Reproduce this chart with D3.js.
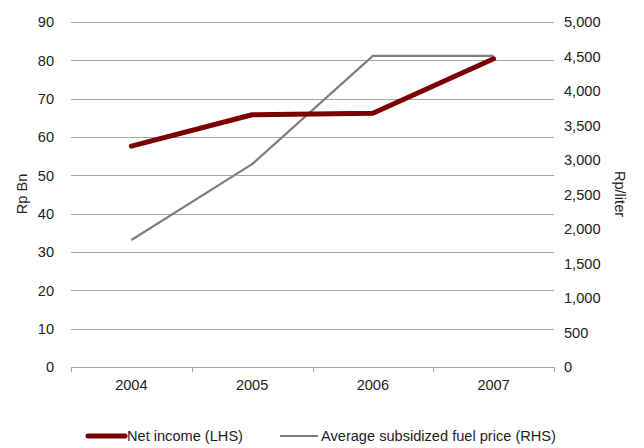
<!DOCTYPE html>
<html>
<head>
<meta charset="utf-8">
<script src="https://cdn.jsdelivr.net/npm/d3@7/dist/d3.min.js"></script>
<style>
  html, body { margin: 0; padding: 0; background: #fff; }
  svg text { font-family: "Liberation Sans", Arial, sans-serif; }
</style>
</head>
<body>
<svg id="chart" width="644" height="448"></svg>
<script>
// Data
const years = ["2004", "2005", "2006", "2007"];
const netIncome = [57.6, 65.8, 66.2, 80.4];        // Rp Bn (left axis)
const fuelPrice = [1840, 2940, 4510, 4510];        // Rp/liter (right axis)
const leftTicks = [0, 10, 20, 30, 40, 50, 60, 70, 80, 90];
const rightTicks = [0, 500, 1000, 1500, 2000, 2500, 3000, 3500, 4000, 4500, 5000];
const seriesNames = ["Net income (LHS)", "Average subsidized fuel price (RHS)"];

const FS = 14.6;
const svg = d3.select("#chart");
const m = { left: 71, right: 554, top: 22, bottom: 367 };

const x = d3.scaleBand().domain(years).range([m.left, m.right]).padding(0);
const yL = d3.scaleLinear().domain([0, 90]).range([m.bottom, m.top]);
const yR = d3.scaleLinear().domain([0, 5000]).range([m.bottom, m.top]);
const cx = d => x(d) + x.bandwidth() / 2;

// Gridlines from the left axis
svg.append("g")
  .selectAll("line")
  .data(leftTicks.filter(d => d > 0))
  .join("line")
  .attr("x1", m.left).attr("x2", m.right)
  .attr("y1", d => Math.round(yL(d)) + 0.5).attr("y2", d => Math.round(yL(d)) + 0.5)
  .attr("stroke", "#a6a6a6").attr("stroke-width", 1);

// Left axis labels
const gL = svg.append("g").attr("transform", `translate(${m.left},0)`)
  .call(d3.axisLeft(yL).tickValues(leftTicks).tickSize(0).tickPadding(17));
gL.select(".domain").remove();
gL.selectAll("text").attr("font-size", FS).attr("fill", "#222")
  .style("font-family", "'Liberation Sans', Arial, sans-serif");

// Right axis labels
const gR = svg.append("g").attr("transform", `translate(${m.right},0)`)
  .call(d3.axisRight(yR).tickValues(rightTicks).tickSize(0).tickPadding(10)
    .tickFormat(d3.format(",")));
gR.select(".domain").remove();
gR.selectAll("text").attr("font-size", FS).attr("fill", "#222")
  .style("font-family", "'Liberation Sans', Arial, sans-serif");

// Category axis with boundary ticks
svg.append("line")
  .attr("x1", m.left).attr("x2", m.right)
  .attr("y1", m.bottom + 0.5).attr("y2", m.bottom + 0.5)
  .attr("stroke", "#a6a6a6").attr("stroke-width", 1);
const bounds = years.map(d => x(d)).concat([x(years[years.length - 1]) + x.bandwidth()]);
svg.append("g").selectAll("line")
  .data(bounds)
  .join("line")
  .attr("x1", d => Math.round(d) + 0.5).attr("x2", d => Math.round(d) + 0.5)
  .attr("y1", m.bottom).attr("y2", m.bottom + 5)
  .attr("stroke", "#a6a6a6").attr("stroke-width", 1);
svg.append("g").selectAll("text")
  .data(years)
  .join("text")
  .attr("x", d => cx(d)).attr("y", 390)
  .attr("text-anchor", "middle")
  .attr("font-size", FS).attr("fill", "#222")
  .text(d => d);

// Axis titles
svg.append("text")
  .attr("transform", `translate(27,194) rotate(-90)`)
  .attr("text-anchor", "middle")
  .attr("font-size", FS).attr("fill", "#222")
  .text("Rp Bn");
svg.append("text")
  .attr("transform", `translate(615,194) rotate(90)`)
  .attr("text-anchor", "middle")
  .attr("font-size", FS).attr("fill", "#222")
  .text("Rp/liter");

// Fuel price line (right axis)
const lineR = d3.line().x((d, i) => cx(years[i])).y(d => yR(d));
svg.append("path")
  .datum(fuelPrice)
  .attr("d", lineR)
  .attr("fill", "none")
  .attr("stroke", "#7f7f7f").attr("stroke-width", 2.2)
  .attr("stroke-linejoin", "round");

// Net income line (left axis)
const lineL = d3.line().x((d, i) => cx(years[i])).y(d => yL(d));
svg.append("path")
  .datum(netIncome)
  .attr("d", lineL)
  .attr("fill", "none")
  .attr("stroke", "#7b0000").attr("stroke-width", 5)
  .attr("stroke-linecap", "round").attr("stroke-linejoin", "round");

// Legend
const legend = svg.append("g");
legend.append("line")
  .attr("x1", 88).attr("x2", 125).attr("y1", 436).attr("y2", 436)
  .attr("stroke", "#7b0000").attr("stroke-width", 5).attr("stroke-linecap", "round");
legend.append("text")
  .attr("x", 127).attr("y", 441)
  .attr("font-size", FS).attr("fill", "#222")
  .text(seriesNames[0]);
legend.append("line")
  .attr("x1", 280).attr("x2", 318).attr("y1", 436).attr("y2", 436)
  .attr("stroke", "#7f7f7f").attr("stroke-width", 2.2);
legend.append("text")
  .attr("x", 321).attr("y", 441)
  .attr("font-size", FS).attr("fill", "#222")
  .text(seriesNames[1]);
</script>
</body>
</html>
